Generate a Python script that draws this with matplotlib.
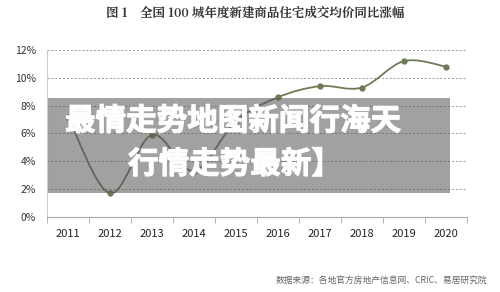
import matplotlib.pyplot as plt
import matplotlib.patheffects as pe
import numpy as np
from matplotlib.path import Path
from matplotlib.patches import PathPatch, Rectangle

plt.rcParams['font.family'] = ['Noto Sans CJK SC', 'DejaVu Sans']

years = ['2011', '2012', '2013', '2014', '2015', '2016', '2017', '2018', '2019', '2020']
growth = [0.072, 0.017, 0.059, 0.033, 0.069, 0.086, 0.094, 0.093, 0.112, 0.108]
y_ticks = [0.0, 0.02, 0.04, 0.06, 0.08, 0.10, 0.12]

title = '图 1　全国 100 城年度新建商品住宅成交均价同比涨幅'
source = '数据来源：各地官方房地产信息网、CRIC、易居研究院'
banner_top = '最情走势地图新闻行海天'
banner_bottom = '行情走势最新】'

line_color = '#6e7b56'

fig = plt.figure(figsize=(5, 2.92), dpi=100)
ax = fig.add_axes([0.094, 0.257, 0.84, 0.572])

x = np.arange(len(years))
y = np.array(growth)

# smoothed line like the spreadsheet chart (bezier through the points)
verts = [(x[0], y[0])]
codes = [Path.MOVETO]
n = len(x)
for i in range(n - 1):
    p0 = np.array([x[max(i - 1, 0)], y[max(i - 1, 0)]])
    p1 = np.array([x[i], y[i]])
    p2 = np.array([x[i + 1], y[i + 1]])
    p3 = np.array([x[min(i + 2, n - 1)], y[min(i + 2, n - 1)]])
    c1 = p1 + (p2 - p0) / 6
    c2 = p2 - (p3 - p1) / 6
    verts += [tuple(c1), tuple(c2), tuple(p2)]
    codes += [Path.CURVE4] * 3
ax.add_patch(PathPatch(Path(verts, codes), fill=False, edgecolor=line_color, lw=1.3, zorder=3))
ax.plot(x, y, 'o', color=line_color, ms=3.5, zorder=4)

ax.set_xlim(-0.5, len(years) - 0.5)
ax.set_ylim(0, 0.12)
ax.set_yticks(y_ticks)
ax.set_yticklabels(['%d%%' % round(v * 100) for v in y_ticks], fontsize=7.5, color='#333333')
ax.set_xticks(x)
ax.set_xticklabels(years, fontsize=8, color='#222222')
ax.set_xticks(np.arange(-0.5, len(years), 1), minor=True)
ax.tick_params(axis='x', which='major', length=0, pad=9)
ax.tick_params(axis='x', which='minor', length=4, color='#aaaaaa')
ax.tick_params(axis='y', length=0, pad=8)
ax.grid(axis='y', linestyle=(0, (2, 2)), color='#999999', lw=0.7)
ax.set_axisbelow(True)
for s in ['top', 'right']:
    ax.spines[s].set_visible(False)
ax.spines['left'].set_color('#cccccc')
ax.spines['bottom'].set_color('#aaaaaa')

fig.text(0.51, 0.955, title, ha='center', va='center', fontsize=9, color='#333333',
         fontfamily=['Noto Serif CJK SC', 'Noto Sans CJK SC'], fontweight='bold')
fig.text(0.975, 0.035, source, ha='right', va='center', fontsize=6.3, color='#666666')

# grey banner laid over the chart
fig.patches.append(Rectangle((0.096, 0.339), 0.804, 0.325, transform=fig.transFigure,
                             facecolor='#555555', alpha=0.55, edgecolor='none', zorder=2))
thick = [pe.withStroke(linewidth=0.8, foreground='white')]
fig.text(0.13, 0.585, banner_top, ha='left', va='center', fontsize=22, color='white',
         fontweight='bold', zorder=3, path_effects=thick)
fig.text(0.256, 0.437, banner_bottom, ha='left', va='center', fontsize=22, color='white',
         fontweight='bold', zorder=3, path_effects=thick)

fig.savefig('out.png', dpi=100)
